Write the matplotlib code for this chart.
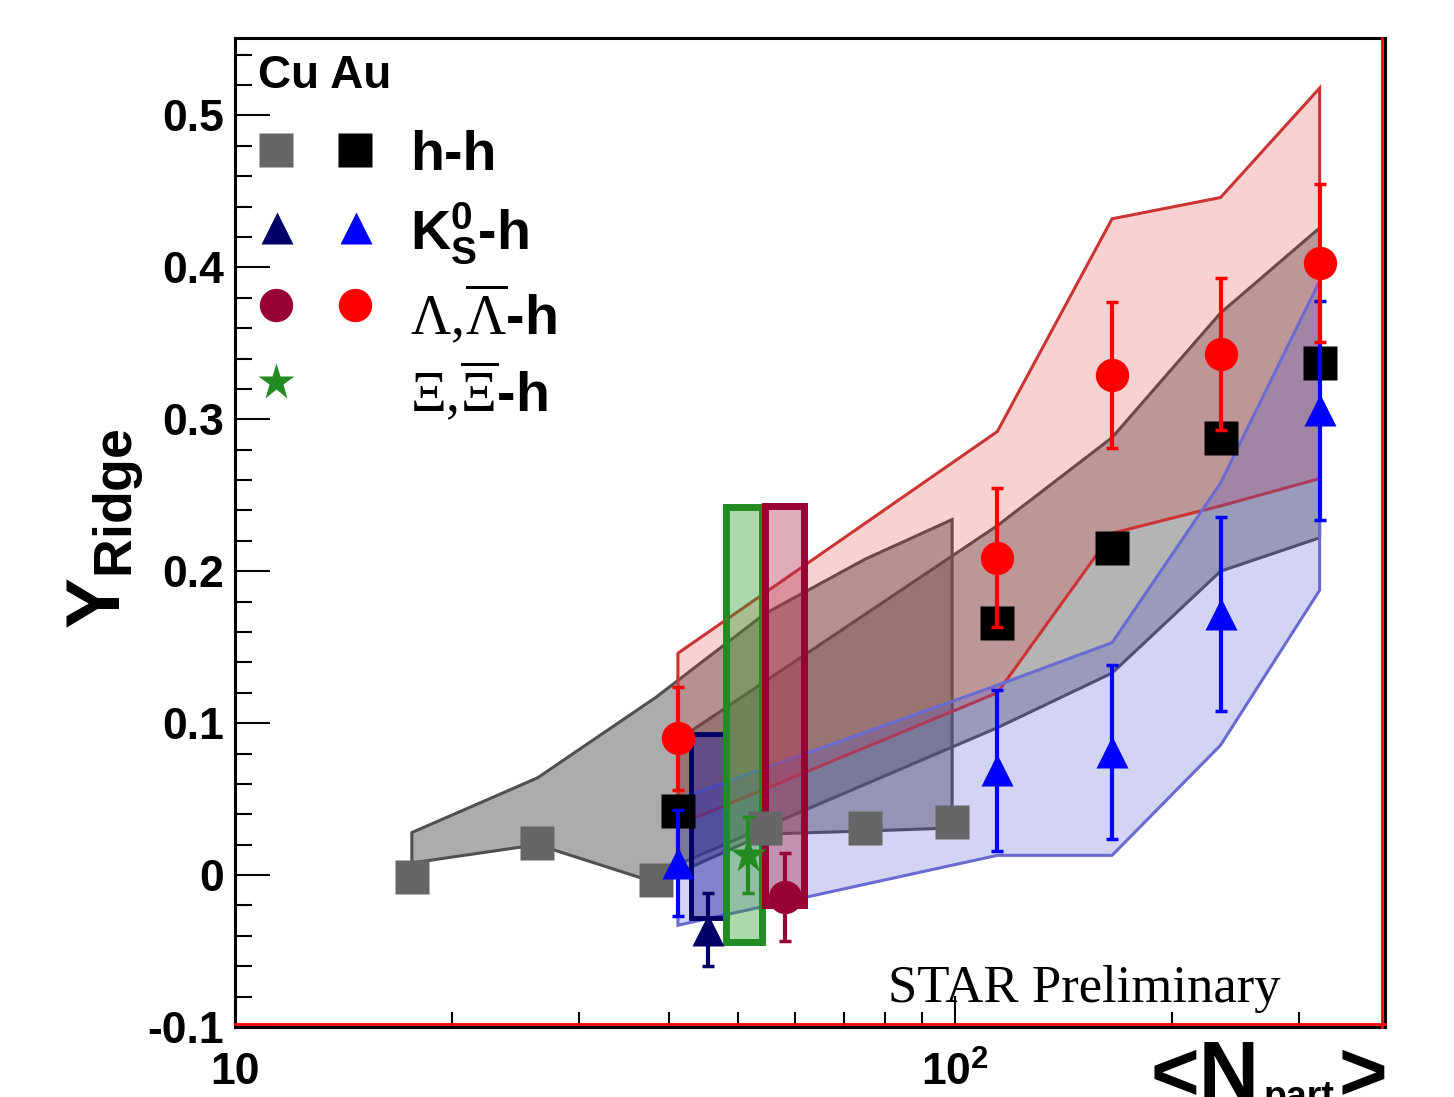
import matplotlib
matplotlib.use('Agg')
import matplotlib.pyplot as plt
from matplotlib.colors import to_rgba
from matplotlib.ticker import FixedLocator, FuncFormatter, NullFormatter

plt.rcParams['font.family'] = ['Liberation Sans', 'DejaVu Sans']
plt.rcParams['font.weight'] = 'bold'
plt.rcParams['mathtext.fontset'] = 'custom'
plt.rcParams['mathtext.rm'] = 'Liberation Serif:weight=normal'
plt.rcParams['mathtext.it'] = 'Liberation Serif:italic:weight=normal'
plt.rcParams['mathtext.bf'] = 'Liberation Sans:bold'

# ---- data ----
# Cu+Cu h-h
cu_x = [17.6, 26.3, 38.4, 54.4, 75.0, 99.0]
cu_hh = [-0.001, 0.021, -0.003, 0.031, 0.031, 0.035]
cu_hh_lo = [0.008, 0.020, -0.005, 0.027, 0.029, 0.031]
cu_hh_hi = [0.028, 0.064, 0.117, 0.172, 0.208, 0.234]

# Au+Au
au_x = [41.2, 114.4, 165.1, 233.5, 320.5]
au_hh = [0.042, 0.166, 0.215, 0.288, 0.337]
au_hh_lo = [0.007, 0.097, 0.133, 0.200, 0.222]
au_hh_hi = [0.089, 0.230, 0.288, 0.370, 0.426]

au_lam = [0.090, 0.209, 0.329, 0.343, 0.403]
au_lam_err = [0.034, 0.046, 0.048, 0.050, 0.052]
au_lam_lo = [0.033, 0.120, 0.225, 0.243, 0.261]
au_lam_hi = [0.146, 0.292, 0.432, 0.446, 0.518]

au_k0 = [0.008, 0.069, 0.081, 0.172, 0.306]
au_k0_err = [0.035, 0.053, 0.057, 0.064, 0.072]
au_k0_lo = [-0.033, 0.013, 0.013, 0.0855, 0.1875]
au_k0_hi = [0.050, 0.125, 0.153, 0.258, 0.391]

# Cu+Cu strange particles (single points with sys. boxes)
cu_k0_x, cu_k0, cu_k0_err = 45.4, -0.036, 0.024
cu_k0_box = [42.9, 47.9, -0.028, 0.093]
cu_xi_x, cu_xi, cu_xi_err = 51.6, 0.013, 0.025
cu_xi_box = [48.1, 53.9, -0.044, 0.242]
cu_lam_x, cu_lam, cu_lam_err = 58.0, -0.0145, 0.029
cu_lam_box = [54.4, 61.6, -0.020, 0.243]

yticks = [-0.1, 0.0, 0.1, 0.2, 0.3, 0.4, 0.5]

W, H = 1454, 1097
fig = plt.figure(figsize=(W / 100, H / 100), dpi=100)
ax = fig.add_axes([235 / W, (H - 1027) / H, 1150 / W, 989 / H])
ax.set_xscale('log')
ax.set_xlim(10, 395)
ax.set_ylim(-0.1, 0.551)


def band(x, lo, hi, face, alpha, edge, lw, z):
    xs = list(x) + list(x)[::-1]
    ys = list(lo) + list(hi)[::-1]
    ax.fill(xs, ys, facecolor=to_rgba(face, alpha), edgecolor=edge, linewidth=lw, zorder=z)


def box(b, face, alpha, edge, lw, z):
    x0, x1, y0, y1 = b
    ax.fill([x0, x1, x1, x0], [y0, y0, y1, y1], facecolor=to_rgba(face, alpha),
            edgecolor=edge, linewidth=lw, zorder=z)


band(cu_x, cu_hh_lo, cu_hh_hi, '#5a5a5a', 0.5, '#505050', 2.2, 1)
band(au_x, au_hh_lo, au_hh_hi, '#5a5a5a', 0.45, '#505050', 2.2, 1.1)
band(au_x, au_lam_lo, au_lam_hi, '#e03030', 0.22, '#cc3333', 2.2, 1.2)
band(au_x, au_k0_lo, au_k0_hi, '#5050d0', 0.25, '#6a6ad0', 2.2, 1.3)

box(cu_k0_box, '#2020a0', 0.45, '#000066', 3.5, 2)
box(cu_xi_box, '#30a030', 0.4, '#228b22', 5, 2.1)
box(cu_lam_box, '#b03050', 0.4, '#990033', 5, 2.2)

ekw = dict(fmt='none', elinewidth=3, capsize=4, capthick=2.5)

ax.plot(cu_x, cu_hh, 's', color='#666666', ms=25, mec='none', zorder=5)
ax.plot(au_x, au_hh, 's', color='black', ms=25, mec='none', zorder=5)
ax.errorbar(au_x, au_k0, yerr=au_k0_err, ecolor='#0000ff', zorder=6, **ekw)
ax.plot(au_x, au_k0, '^', color='#0000ff', ms=23, mec='none', zorder=6)
ax.errorbar(au_x, au_lam, yerr=au_lam_err, ecolor='#ff0000', zorder=7, **ekw)
ax.plot(au_x, au_lam, 'o', color='#ff0000', ms=24, mec='none', zorder=7)

ax.errorbar([cu_k0_x], [cu_k0], yerr=[cu_k0_err], ecolor='#000066', zorder=8, **ekw)
ax.plot([cu_k0_x], [cu_k0], '^', color='#000066', ms=23, mec='none', zorder=8)
ax.errorbar([cu_xi_x], [cu_xi], yerr=[cu_xi_err], ecolor='#228b22', zorder=8, **ekw)
ax.plot([cu_xi_x], [cu_xi], '*', color='#228b22', ms=28, mec='none', zorder=8)
ax.errorbar([cu_lam_x], [cu_lam], yerr=[cu_lam_err], ecolor='#990033', zorder=8, **ekw)
ax.plot([cu_lam_x], [cu_lam], 'o', color='#990033', ms=24, mec='none', zorder=8)

# ---- axes styling ----
for s in ax.spines.values():
    s.set_linewidth(2.2)
    s.set_color('black')
ax.plot([0, 1], [0.003, 0.003], transform=ax.transAxes, color='red', lw=2, clip_on=False, zorder=10)
ax.plot([0.9975, 0.9975], [0, 1], transform=ax.transAxes, color='red', lw=2, clip_on=False, zorder=10)

ax.yaxis.set_major_locator(FixedLocator(yticks))
ax.yaxis.set_minor_locator(FixedLocator([-0.1 + 0.02 * i for i in range(33)]))
ax.yaxis.set_major_formatter(FuncFormatter(lambda v, p: '0' if abs(v) < 1e-9 else f'{v:g}'))
ax.xaxis.set_major_locator(FixedLocator([10, 100]))
ax.xaxis.set_minor_locator(FixedLocator([20, 30, 40, 50, 60, 70, 80, 90, 200, 300]))
ax.xaxis.set_major_formatter(FuncFormatter(lambda v, p: '10' if v < 50 else r'$\mathbf{10^{2}}$'))
ax.xaxis.set_minor_formatter(NullFormatter())

ax.tick_params(axis='y', which='major', direction='in', length=25, width=1.5,
               labelsize=32, pad=8, right=False)
ax.tick_params(axis='y', which='minor', direction='in', length=12, width=1.5, right=False)
ax.tick_params(axis='x', which='major', direction='in', length=22, width=1.5,
               labelsize=32, pad=18, top=False)
ax.tick_params(axis='x', which='minor', direction='in', length=11, width=1.5, top=False)


# ---- legend drawn by hand ----
def axpos(px, py):
    return (px - 235) / 1150, (1027 - py) / 989


def lmark(px, py, m, c, ms):
    x, y = axpos(px, py)
    ax.plot([x], [y], m, color=c, ms=ms, mec='none', transform=ax.transAxes, zorder=11)


x, y = axpos(258, 76)
ax.text(x, y, 'Cu Au', transform=ax.transAxes, fontsize=33, va='center', ha='left')

lmark(276, 150, 's', '#666666', 25)
lmark(355, 150, 's', 'black', 25)
lmark(277, 228, '^', '#000066', 23)
lmark(356, 228, '^', '#0000ff', 23)
lmark(276, 305, 'o', '#990033', 24)
lmark(355, 305, 'o', '#ff0000', 24)
lmark(276, 382, '*', '#228b22', 28)

for txt, base in [('h-h', 170), (r'$\mathbf{K^{0}_{S}}$-h', 250),
                  (r'$\Lambda,\!\overline{\Lambda}$-h', 335), (r'$\Xi,\!\overline{\Xi}$-h', 412)]:
    x, y = axpos(410, base)
    ax.text(x, y, txt, transform=ax.transAxes, fontsize=40, va='baseline', ha='left')

fig.text(888 / W, 1 - 1002 / H, 'STAR Preliminary', family='Liberation Serif',
         fontweight='normal', fontsize=38, va='baseline', ha='left')

fig.text(105 / W, 1 - 529 / H, r'$\mathbf{Y_{Ridge}}$', rotation=90, fontsize=55,
         ha='center', va='center')

fig.text(1150 / W, (H - 1100) / H, '<N', fontsize=60, va='baseline', ha='left')
fig.text(1264 / W, (H - 1108) / H, 'part', fontsize=27, va='baseline', ha='left')
fig.text(1387 / W, (H - 1100) / H, '>', fontsize=60, va='baseline', ha='right')

fig.savefig('out.png', dpi=100)
